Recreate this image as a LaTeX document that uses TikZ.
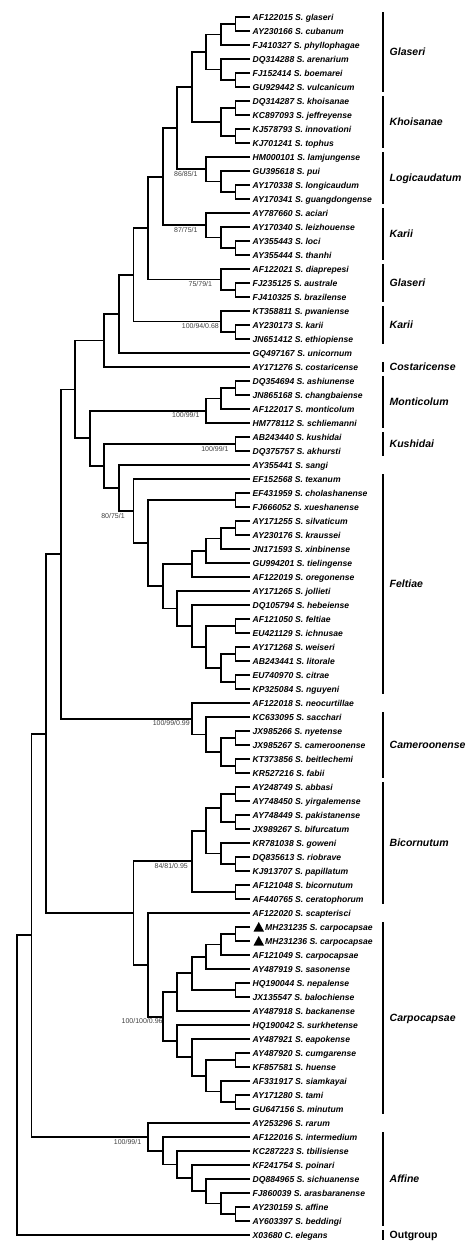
\documentclass[tikz,border=0pt]{standalone}
\usepackage{fontspec}
\setmainfont{Liberation Sans}
\usetikzlibrary{calc}

\tikzset{
  branch/.style={line width=1.8pt},
  taxon/.style={anchor=west, inner xsep=2.5pt, inner ysep=0pt, text height=6.2pt, text depth=0pt,
    font=\fontsize{8.6}{9}\selectfont\bfseries\itshape},
  support/.style={anchor=north, inner sep=0pt, text height=5pt, text depth=0pt,
    font=\fontsize{7}{7}\selectfont, text=black!75},
  groupbar/.style={line width=2.2pt},
  group/.style={anchor=west, inner sep=0pt, text height=7.6pt, text depth=0pt,
    font=\fontsize{10.5}{11}\selectfont\bfseries\itshape},
}
% clade: name, level, upper child, lower child
\newcommand\clade[4]{%
  \coordinate (#1-m) at ($(#3)!0.5!(#4)$);
  \coordinate (#1-x) at ({\xtip-#2*\dx},0);
  \coordinate (#1) at (#1-x |- #1-m);
  \draw[branch] (#3) -| (#1) |- (#4);
}
\newcommand\marked{\hspace*{12.5pt}}

\begin{document}
\begin{tikzpicture}[x=1pt, y=-1pt, line join=miter]
\def\xtip{250} \def\dx{14.5625} % tip line, level step
\useasboundingbox (0,0) rectangle (474,1251);
% taxa
\foreach \lab [count=\i] in {AF122015 S. glaseri, AY230166 S. cubanum, FJ410327 S. phyllophagae,
  DQ314288 S. arenarium, FJ152414 S. boemarei, GU929442 S. vulcanicum, DQ314287 S. khoisanae,
  KC897093 S. jeffreyense, KJ578793 S. innovationi, KJ701241 S. tophus, HM000101 S. lamjungense,
  GU395618 S. pui, AY170338 S. longicaudum, AY170341 S. guangdongense, AY787660 S. aciari,
  AY170340 S. leizhouense, AY355443 S. loci, AY355444 S. thanhi, AF122021 S. diaprepesi,
  FJ235125 S. australe, FJ410325 S. brazilense, KT358811 S. pwaniense, AY230173 S. karii,
  JN651412 S. ethiopiense, GQ497167 S. unicornum, AY171276 S. costaricense, DQ354694 S. ashiunense,
  JN865168 S. changbaiense, AF122017 S. monticolum, HM778112 S. schliemanni, AB243440 S. kushidai,
  DQ375757 S. akhursti, AY355441 S. sangi, EF152568 S. texanum, EF431959 S. cholashanense,
  FJ666052 S. xueshanense, AY171255 S. silvaticum, AY230176 S. kraussei, JN171593 S. xinbinense,
  GU994201 S. tielingense, AF122019 S. oregonense, AY171265 S. jollieti, DQ105794 S. hebeiense,
  AF121050 S. feltiae, EU421129 S. ichnusae, AY171268 S. weiseri, AB243441 S. litorale,
  EU740970 S. citrae, KP325084 S. nguyeni, AF122018 S. neocurtillae, KC633095 S. sacchari,
  JX985266 S. nyetense, JX985267 S. cameroonense, KT373856 S. beitlechemi, KR527216 S. fabii,
  AY248749 S. abbasi, AY748450 S. yirgalemense, AY748449 S. pakistanense, JX989267 S. bifurcatum,
  KR781038 S. goweni, DQ835613 S. riobrave, KJ913707 S. papillatum, AF121048 S. bicornutum,
  AF440765 S. ceratophorum, AF122020 S. scapterisci, \marked MH231235 S. carpocapsae,
  \marked MH231236 S. carpocapsae, AF121049 S. carpocapsae, AY487919 S. sasonense,
  HQ190044 S. nepalense, JX135547 S. balochiense, AY487918 S. backanense, HQ190042 S. surkhetense,
  AY487921 S. eapokense, AY487920 S. cumgarense, KF857581 S. huense, AF331917 S. siamkayai,
  AY171280 S. tami, GU647156 S. minutum, AY253296 S. rarum, AF122016 S. intermedium,
  KC287223 S. tbilisiense, KF241754 S. poinari, DQ884965 S. sichuanense, FJ860039 S. arasbaranense,
  AY230159 S. affine, AY603397 S. beddingi, X03680 C. elegans}{
  \coordinate (L\i) at (\xtip,{17+(\i-1)*14});
  \node[taxon] (T\i) at (L\i) {\lab};
}
\foreach \i in {66,67}
  \fill ($(L\i)+(3.5,4.5)$) -- ++(10.5,0) -- ++(-5.25,-9.5) -- cycle;
% tree
\foreach \n/\k/\a/\b in {c1/1/L1/L2, c2/2/c1/L3, c3/1/L5/L6, c4/2/L4/c3, c5/3/c2/c4,
  c6/1/L7/L8, c7/1/L9/L10, c8/2/c6/c7, c9/4/c5/c8,
  c10/1/L13/L14, c11/2/L12/c10, c12/3/L11/c11, c13/5/c9/c12,
  c14/1/L17/L18, c15/2/L16/c14, c16/3/L15/c15, c17/6/c13/c16,
  c18/1/L20/L21, c19/2/L19/c18, c20/7/c17/c19,
  c21/1/L23/L24, c22/2/L22/c21, c23/8/c20/c22, c24/9/c23/L25, c25/10/c24/L26,
  c26/1/L27/L28, c27/2/c26/L29, c28/3/c27/L30, c29/1/L31/L32,
  c30/1/L35/L36, c31/1/L37/L38, c32/2/c31/L39, c33/3/c32/L40, c34/4/c33/L41,
  c35/1/L44/L45, c36/1/L46/L47, c37/1/L48/L49, c38/2/c36/c37, c39/3/c35/c38,
  c40/4/L43/c39, c41/5/L42/c40, c42/6/c34/c41, c43/7/c30/c42, c44/8/L34/c43,
  c45/9/L33/c44, c46/10/c29/c45, c47/11/c28/c46, c48/12/c25/c47,
  c49/1/L52/L53, c50/1/L54/L55, c51/2/c49/c50, c52/3/L51/c51, c53/4/L50/c52, c54/13/c48/c53,
  c55/1/L56/L57, c56/1/L58/L59, c57/2/c55/c56, c58/1/L61/L62, c59/2/L60/c58,
  c60/3/c57/c59, c61/1/L63/L64, c62/4/c60/c61,
  c63/1/L66/L67, c64/2/c63/L68, c65/3/c64/L69, c66/1/L70/L71, c67/4/c65/c66, c68/5/c67/L72,
  c69/1/L75/L76, c70/1/L78/L79, c71/2/L77/c70, c72/3/c69/c71, c73/4/L74/c72, c74/5/L73/c73,
  c75/6/c68/c74, c76/7/L65/c75, c77/8/c62/c76, c78/14/c54/c77,
  c79/1/L86/L87, c80/2/L85/c79, c81/3/L84/c80, c82/4/L83/c81, c83/5/L82/c82,
  c84/6/L81/c83, c85/7/L80/c84, c86/15/c78/c85, c87/16/c86/L88}
  {\clade{\n}{\k}{\a}{\b}}
% support values
\foreach \n/\s in {c12/{86/85/1}, c16/{87/75/1}, c19/{75/79/1}, c22/{100/94/0.68},
  c28/{100/99/1}, c29/{100/99/1}, c44/{80/75/1}, c53/{100/99/0.99}, c62/{84/81/0.95},
  c75/{100/100/0.96}, c85/{100/99/1}}
  \node[support] (s\n) at ($(\n)+(-20.5,2)$) {\s};
% groups
\foreach \g/\a/\b [count=\j] in {Glaseri/1/6, Khoisanae/7/10, Logicaudatum/11/14, Karii/15/18,
  Glaseri/19/21, Karii/22/24, Costaricense/26/26, Monticolum/27/30, Kushidai/31/32,
  Feltiae/34/49, Cameroonense/51/55, Bicornutum/56/64, Carpocapsae/66/79, Affine/81/87,
  {\upshape Outgroup}/88/88}{
  \draw[groupbar] ($(L\a)+(133,-5)$) coordinate (B\j) -- ($(L\b)+(133,5)$) coordinate (E\j);
  \node[group] (G\j) at ($(B\j)!0.5!(E\j)+(6.5,0)$) {\g};
}
\end{tikzpicture}
\end{document}
